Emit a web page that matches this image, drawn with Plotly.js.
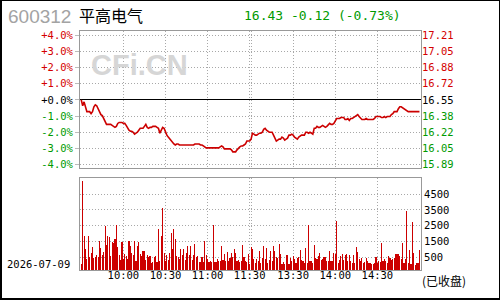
<!DOCTYPE html>
<html><head><meta charset="utf-8">
<script src="https://cdn.plot.ly/plotly-3.0.1.min.js"></script>
<style>
html,body{margin:0;padding:0;background:#fff;}
#wrap{position:relative;width:500px;height:300px;overflow:hidden;}
#chart{width:500px;height:300px;}
#frame{position:absolute;left:0;top:0;width:500px;height:300px;box-sizing:border-box;border-style:solid;border-color:#000;border-width:1px 1px 2px 2px;pointer-events:none;}
</style></head><body>
<div id="wrap"><div id="chart"></div><div id="frame"></div></div>
<script>
const STOCK_CODE = '600312';
const STOCK_NAME = '平高电气';
const TRADE_DATE = '2026-07-09';
const PREV_CLOSE = 16.55;
const LAST_PRICE = 16.43;
const CHANGE = -0.12;
const CHANGE_PCT = -0.73;
const STATUS = '(已收盘)';
const WATERMARK = 'CFi.CN';

// one value per minute: 09:30..11:30 (121) then 13:00..15:00 (121)
const PRICE = [
16.55,16.49,16.53,16.47,16.43,16.43,16.43,16.41,16.43,16.48,
16.50,16.49,16.46,16.42,16.40,16.39,16.36,16.32,16.30,16.30,
16.30,16.30,16.29,16.28,16.27,16.28,16.31,16.32,16.32,16.32,
16.31,16.31,16.29,16.26,16.24,16.23,16.23,16.22,16.20,16.21,
16.22,16.24,16.26,16.26,16.26,16.28,16.30,16.27,16.26,16.27,
16.27,16.28,16.28,16.28,16.27,16.26,16.21,16.24,16.27,16.26,
16.22,16.19,16.17,16.15,16.13,16.11,16.10,16.09,16.10,16.10,
16.09,16.09,16.09,16.09,16.09,16.09,16.09,16.09,16.09,16.09,
16.09,16.10,16.10,16.10,16.10,16.09,16.09,16.08,16.07,16.06,
16.06,16.06,16.06,16.06,16.06,16.06,16.06,16.06,16.06,16.07,
16.08,16.07,16.05,16.05,16.05,16.05,16.05,16.04,16.02,16.02,
16.02,16.04,16.06,16.07,16.08,16.08,16.09,16.10,16.13,16.13,
16.13,
16.15,16.21,16.20,16.19,16.19,16.20,16.21,16.21,16.22,16.25,
16.26,16.24,16.23,16.22,16.22,16.22,16.19,16.15,16.13,16.14,
16.15,16.15,16.17,16.16,16.14,16.15,16.16,16.19,16.19,16.20,
16.19,16.17,16.16,16.15,16.17,16.18,16.19,16.19,16.19,16.22,
16.22,16.21,16.22,16.21,16.20,16.26,16.26,16.28,16.27,16.27,
16.28,16.29,16.28,16.27,16.28,16.30,16.31,16.30,16.30,16.31,
16.34,16.36,16.36,16.36,16.37,16.37,16.37,16.35,16.35,16.36,
16.34,16.36,16.36,16.37,16.38,16.39,16.40,16.38,16.36,16.35,
16.35,16.35,16.36,16.35,16.35,16.35,16.35,16.35,16.36,16.38,
16.38,16.38,16.38,16.37,16.37,16.38,16.37,16.38,16.38,16.38,
16.40,16.41,16.43,16.43,16.43,16.46,16.48,16.48,16.47,16.46,
16.45,16.44,16.43,16.43,16.43,16.43,16.43,16.43,16.43,16.43,
16.43
];

const VOLUME = [
96,5309,1841,1011,380,1841,500,798,1138,457,
520,670,543,1521,1053,628,819,2479,1266,1841,
1777,564,1479,1372,1628,2543,1160,628,308,1479,
372,692,585,415,1521,1202,798,628,1521,245,
1202,1458,692,564,904,926,308,670,500,606,
160,202,543,564,223,2288,287,1841,3628,798,
245,628,308,755,2053,1011,2288,1649,564,543,
415,1011,670,1011,308,755,1202,670,1202,308,
628,1330,500,585,181,181,500,181,1521,628,
415,181,287,181,2543,181,223,415,287,245,
1202,351,692,245,819,245,436,755,500,1011,
755,287,308,202,245,1266,500,287,181,692,
53,
1160,1011,415,160,372,245,883,160,457,1202,
415,1053,160,308,883,245,1202,926,500,479,
1330,692,74,181,96,628,628,74,457,287,
564,394,160,436,543,947,330,287,160,1075,
160,2543,245,245,160,1266,436,415,564,755,
308,372,543,500,245,245,883,245,245,755,
713,2820,160,308,564,692,308,628,692,245,
628,245,138,628,160,1138,819,415,245,457,
160,202,457,245,160,117,96,96,160,500,
160,245,223,1394,287,372,287,160,585,457,
308,415,479,692,713,692,564,415,1415,160,
415,3458,160,947,96,2734,755,32,160,160,
947
];

const PCT_TICKS = [4, 3, 2, 1, 0, -1, -2, -3, -4];
const PCT_LABELS = ['+4.0%','+3.0%','+2.0%','+1.0%','+0.0%','-1.0%','-2.0%','-3.0%','-4.0%'];
const PRICE_LABELS = ['17.21','17.05','16.88','16.72','16.55','16.38','16.22','16.05','15.89'];
const VOL_TICKS = [500, 1500, 2500, 3500, 4500];
const VOL_LABELS = ['500','1500','2500','3500','4500'];
const TIME_TICKS = [30, 60, 90, 120, 121, 151, 181, 211];
const TIME_LABELS = ['10:00','10:30','11:00','11:30','','13:30','14:00','14:30'];

// ---- styling / geometry ----
const W = 500, H = 300, ML = 80, MR = 79, MT = 31, MB = 30;
const PW = W - ML - MR, PH = H - MT - MB;
const px2x = p => (p - ML) / PW;
const py2y = p => (H - MB - p) / PH;
const RED = '#d40000', GREEN = '#009a00', GRID = '#a8a8a8', FRAME = '#999999', DOT = '1px,2px';
const MONO = 'DejaVu Sans Mono', CJK = 'Noto Sans CJK SC';
const TICKFONT = {family: MONO, size: 10.5, color: '#000'};

const idx = PRICE.map((_, i) => i);
const pctChange = PRICE.map(p => (p / PREV_CLOSE - 1) * 100);
const PCT_RANGE = [-4.2, 4.25];
const colorFor = p => p > 0 ? RED : (p < 0 ? GREEN : '#000');
const pctText = PCT_LABELS.map((t, k) => `<span style="color:${colorFor(PCT_TICKS[k])}">${t}</span>`);
const priceText = PRICE_LABELS.map((t, k) => `<span style="color:${colorFor(PCT_TICKS[k])}">${t}</span>`);
const VOL_FLOOR = -310, VOL_CEIL = 5520;
const XR = [-0.9, 242.1];

const traces = [
  {type: 'scatter', mode: 'lines', x: idx, y: pctChange, xaxis: 'x', yaxis: 'y',
   line: {color: '#cc0000', width: 1.6}, hoverinfo: 'skip', showlegend: false},
  {type: 'scatter', mode: 'lines', x: [idx[0]], y: [0], xaxis: 'x', yaxis: 'y3',
   line: {width: 0}, opacity: 0, hoverinfo: 'skip', showlegend: false},
  {type: 'bar', x: idx, y: VOLUME.map(v => v - VOL_FLOOR), base: VOL_FLOOR, xaxis: 'x2', yaxis: 'y2',
   width: 0.8, marker: {color: '#cc0000', line: {width: 0}}, hoverinfo: 'skip', showlegend: false}
];

const xCommon = {range: XR, tickvals: TIME_TICKS, ticktext: TIME_LABELS, showgrid: true, gridcolor: GRID,
  griddash: DOT, gridwidth: 1, showline: true, mirror: true, linecolor: FRAME, linewidth: 1,
  zeroline: false, ticks: '', tickfont: TICKFONT, fixedrange: true};

const layout = {
  width: W, height: H, margin: {l: ML, r: MR, t: MT, b: MB, pad: 0},
  paper_bgcolor: '#fff', plot_bgcolor: '#fff', showlegend: false, hovermode: false, bargap: 0,
  xaxis: Object.assign({}, xCommon, {domain: [0, 1], anchor: 'y', showticklabels: false}),
  xaxis2: Object.assign({}, xCommon, {domain: [0, 1], anchor: 'y2', showticklabels: true, ticklabelstandoff: -5}),
  yaxis: {domain: [py2y(168), 1], anchor: 'x', range: PCT_RANGE, tickvals: PCT_TICKS, ticktext: pctText,
    ticks: 'outside', ticklen: 4, tickcolor: '#bbbbbb', tickwidth: 1, showgrid: true, gridcolor: GRID, griddash: DOT,
    showline: true, mirror: true, linecolor: FRAME, linewidth: 1,
    zeroline: true, zerolinecolor: '#000', zerolinewidth: 1, tickfont: TICKFONT, fixedrange: true},
  yaxis3: {overlaying: 'y', anchor: 'x', side: 'right', range: PCT_RANGE, tickvals: PCT_TICKS, ticktext: priceText,
    ticks: '', showgrid: false, showline: false, zeroline: false, tickfont: TICKFONT, fixedrange: true},
  yaxis2: {domain: [0, py2y(178)], anchor: 'x2', side: 'right', range: [VOL_FLOOR, VOL_CEIL],
    tickvals: VOL_TICKS, ticktext: VOL_LABELS, ticks: '', showgrid: true, gridcolor: GRID, griddash: DOT,
    showline: true, mirror: true, linecolor: FRAME, linewidth: 1, zeroline: false, tickfont: TICKFONT, fixedrange: true},
  annotations: [
    {xref: 'paper', yref: 'paper', x: px2x(139), y: py2y(65), xanchor: 'center', yanchor: 'middle', showarrow: false,
     text: '<b>' + WATERMARK + '</b>', font: {family: 'Liberation Sans', size: 29, color: '#d6d6d6'}},
    {xref: 'paper', yref: 'paper', x: px2x(6), y: py2y(16.5), xanchor: 'left', yanchor: 'middle', showarrow: false,
     text: STOCK_CODE, font: {family: 'Liberation Sans', size: 19, color: '#a3a3a3'}},
    {xref: 'paper', yref: 'paper', x: px2x(77), y: py2y(14.5), xanchor: 'left', yanchor: 'middle', showarrow: false,
     text: STOCK_NAME, font: {family: CJK, size: 16, color: '#000'}},
    {xref: 'paper', yref: 'paper', x: px2x(242), y: py2y(15), xanchor: 'left', yanchor: 'middle', showarrow: false,
     text: `${LAST_PRICE.toFixed(2)} ${CHANGE.toFixed(2)} (${CHANGE_PCT.toFixed(2)}%)`,
     font: {family: MONO, size: 13, color: GREEN}},
    {xref: 'paper', yref: 'paper', x: px2x(5), y: py2y(263.5), xanchor: 'left', yanchor: 'middle', showarrow: false,
     text: TRADE_DATE, font: {family: MONO, size: 10.5, color: '#000'}},
    {xref: 'paper', yref: 'paper', x: px2x(420), y: py2y(280), xanchor: 'left', yanchor: 'middle', showarrow: false,
     text: STATUS, font: {family: CJK, size: 12, color: '#000'}}
  ]
};

Plotly.newPlot('chart', traces, layout, {staticPlot: true, displayModeBar: false});
</script>
</body></html>
